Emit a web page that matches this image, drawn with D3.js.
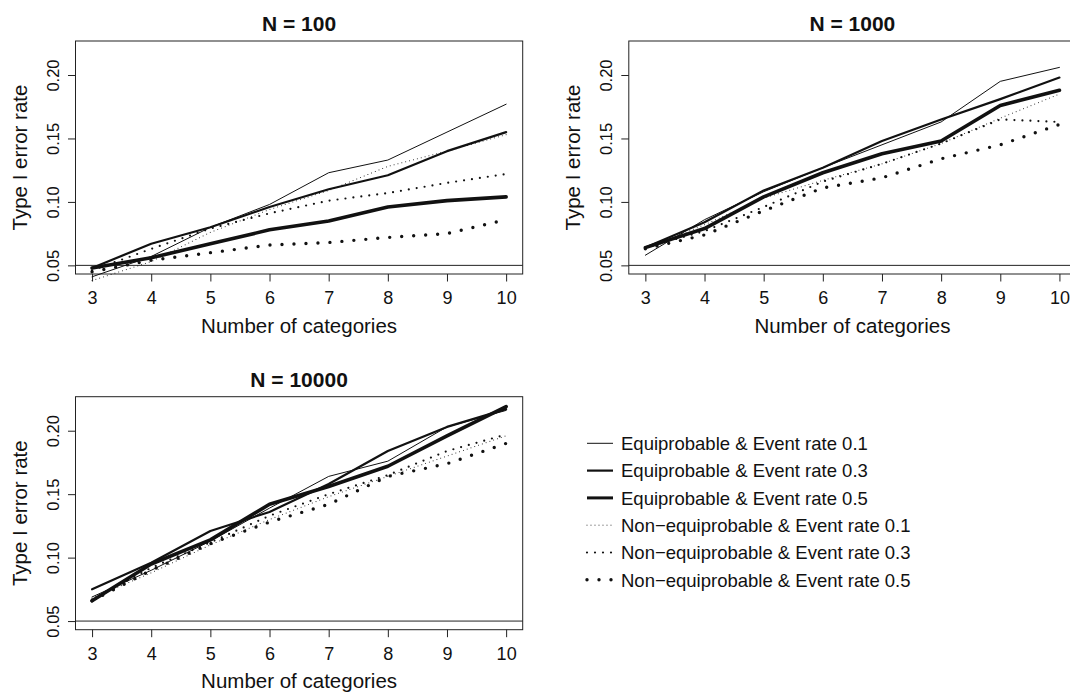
<!DOCTYPE html>
<html>
<head>
<meta charset="utf-8">
<script src="https://cdn.jsdelivr.net/npm/d3@7"></script>
<style>
  html, body { margin: 0; padding: 0; background: #fff; }
  svg { display: block; font-family: "Liberation Sans", Arial, Helvetica, sans-serif; }
</style>
</head>
<body>
<svg id="chart" width="1070" height="692"></svg>
<script>
// Number of categories on the x axis
const categories = [3, 4, 5, 6, 7, 8, 9, 10];

const seriesNames = [
  "Equiprobable & Event rate 0.1",
  "Equiprobable & Event rate 0.3",
  "Equiprobable & Event rate 0.5",
  "Non\u2212equiprobable & Event rate 0.1",
  "Non\u2212equiprobable & Event rate 0.3",
  "Non\u2212equiprobable & Event rate 0.5",
];

// Type I error rate, one row per series (same order as seriesNames)
const n100 = [
  [0.041, 0.057, 0.080, 0.098, 0.123, 0.133, 0.155, 0.177],
  [0.048, 0.067, 0.080, 0.096, 0.110, 0.121, 0.140, 0.155],
  [0.048, 0.056, 0.067, 0.078, 0.085, 0.096, 0.101, 0.104],
  [0.038, 0.053, 0.076, 0.094, 0.109, 0.128, 0.140, 0.153],
  [0.046, 0.063, 0.079, 0.091, 0.101, 0.107, 0.115, 0.122],
  [0.045, 0.054, 0.060, 0.066, 0.068, 0.072, 0.075, 0.086],
];

const n1000 = [
  [0.058, 0.086, 0.108, 0.127, 0.145, 0.163, 0.195, 0.206],
  [0.064, 0.084, 0.109, 0.127, 0.148, 0.165, 0.181, 0.198],
  [0.064, 0.079, 0.104, 0.123, 0.138, 0.148, 0.176, 0.188],
  [0.063, 0.082, 0.103, 0.117, 0.130, 0.146, 0.166, 0.185],
  [0.064, 0.077, 0.096, 0.116, 0.130, 0.146, 0.165, 0.163],
  [0.063, 0.074, 0.093, 0.111, 0.119, 0.134, 0.145, 0.161],
];

const n10000 = [
  [0.069, 0.090, 0.113, 0.139, 0.164, 0.176, 0.203, 0.216],
  [0.075, 0.096, 0.121, 0.136, 0.158, 0.184, 0.203, 0.217],
  [0.066, 0.095, 0.114, 0.142, 0.156, 0.172, 0.196, 0.219],
  [0.068, 0.088, 0.110, 0.130, 0.148, 0.164, 0.180, 0.196],
  [0.067, 0.092, 0.112, 0.133, 0.150, 0.165, 0.184, 0.197],
  [0.066, 0.090, 0.111, 0.128, 0.142, 0.164, 0.174, 0.190],
];

const panelTitles = ["N = 100", "N = 1000", "N = 10000"];
const yTicks = [0.05, 0.10, 0.15, 0.20];
const refLine = 0.05;

// line styles: pixel width, and dot spacing for dotted series (0 = solid)
const lineWidths = [1, 2.2, 3.6, 1, 2.2, 3.4];
const dotGaps = [0, 0, 0, 4, 8, 12];

const panels = [
  { title: panelTitles[0], rows: n100, col: 0, row: 0 },
  { title: panelTitles[1], rows: n1000, col: 1, row: 0 },
  { title: panelTitles[2], rows: n10000, col: 0, row: 1 },
];

const svg = d3.select("#chart");
const colW = 553.3, rowH = 355.7;
const boxW = 447.2, boxH = 233;
const ink = "#111";

const strokeDash = (i) => (dotGaps[i] ? `0,${dotGaps[i]}` : null);

panels.forEach((p) => {
  const left = 75.5 + p.col * colW;
  const top = 41 + p.row * rowH;

  // R style 4% axis extension
  const x = d3.scaleLinear().domain([2.72, 10.28]).range([left, left + boxW]);
  const y = d3.scaleLinear().domain([0.0432, 0.2268]).range([top + boxH, top]);

  const g = svg.append("g");

  // box
  g.append("rect")
    .attr("x", left).attr("y", top)
    .attr("width", boxW).attr("height", boxH)
    .attr("fill", "none").attr("stroke", "#222").attr("stroke-width", 1);

  // x axis
  const xAxis = d3.axisBottom(x).tickValues(categories).tickSize(7.5).tickFormat(d3.format("d"));
  const xa = g.append("g").attr("transform", `translate(0,${top + boxH})`).call(xAxis);
  xa.select(".domain").remove();
  xa.selectAll("line").attr("stroke", "#222");
  xa.selectAll("text")
    .attr("y", 30).attr("dy", null)
    .attr("fill", ink).style("font-size", "18px").style("font-family", "inherit");

  // y axis
  const yAxis = d3.axisLeft(y).tickValues(yTicks).tickSize(7.5).tickFormat(d3.format(".2f"));
  const ya = g.append("g").attr("transform", `translate(${left},0)`).call(yAxis);
  ya.select(".domain").remove();
  ya.selectAll("line").attr("stroke", "#222");
  ya.selectAll("text")
    .attr("x", null).attr("dy", null)
    .attr("text-anchor", "middle")
    .attr("transform", "translate(-17,0) rotate(-90)")
    .attr("fill", ink).style("font-size", "16.5px").style("font-family", "inherit");

  // reference line at 0.05
  g.append("line")
    .attr("x1", left).attr("x2", left + boxW)
    .attr("y1", y(refLine)).attr("y2", y(refLine))
    .attr("stroke", "#222").attr("stroke-width", 1);

  // series
  const line = d3.line().x((d, i) => x(categories[i])).y((d) => y(d));
  p.rows.forEach((vals, i) => {
    g.append("path")
      .datum(vals)
      .attr("d", line)
      .attr("fill", "none")
      .attr("stroke", ink)
      .attr("stroke-width", lineWidths[i])
      .attr("stroke-linecap", "round")
      .attr("stroke-linejoin", "round")
      .attr("stroke-dasharray", strokeDash(i));
  });

  // titles
  g.append("text")
    .attr("x", left + boxW / 2).attr("y", top - 10)
    .attr("text-anchor", "middle")
    .style("font-size", "21px").style("font-weight", "bold")
    .attr("fill", ink).text(p.title);

  g.append("text")
    .attr("x", left + boxW / 2).attr("y", top + boxH + 58.5)
    .attr("text-anchor", "middle")
    .style("font-size", "20.5px")
    .attr("fill", ink).text("Number of categories");

  g.append("text")
    .attr("transform", `translate(${left - 48.5},${top + boxH / 2}) rotate(-90)`)
    .attr("text-anchor", "middle")
    .style("font-size", "20.5px")
    .attr("fill", ink).text("Type I error rate");
});

// legend
const legend = svg.append("g");
seriesNames.forEach((name, i) => {
  const base = 450 + i * 27.3;
  legend.append("line")
    .attr("x1", 587).attr("x2", 613)
    .attr("y1", base - 6.7).attr("y2", base - 6.7)
    .attr("stroke", ink)
    .attr("stroke-width", dotGaps[i] ? lineWidths[i] : Math.min(lineWidths[i], 3))
    .attr("stroke-linecap", dotGaps[i] ? "round" : "butt")
    .attr("stroke-dasharray", strokeDash(i));
  legend.append("text")
    .attr("x", 621).attr("y", base)
    .style("font-size", "18.5px")
    .attr("fill", ink).text(name);
});
</script>
</body>
</html>
